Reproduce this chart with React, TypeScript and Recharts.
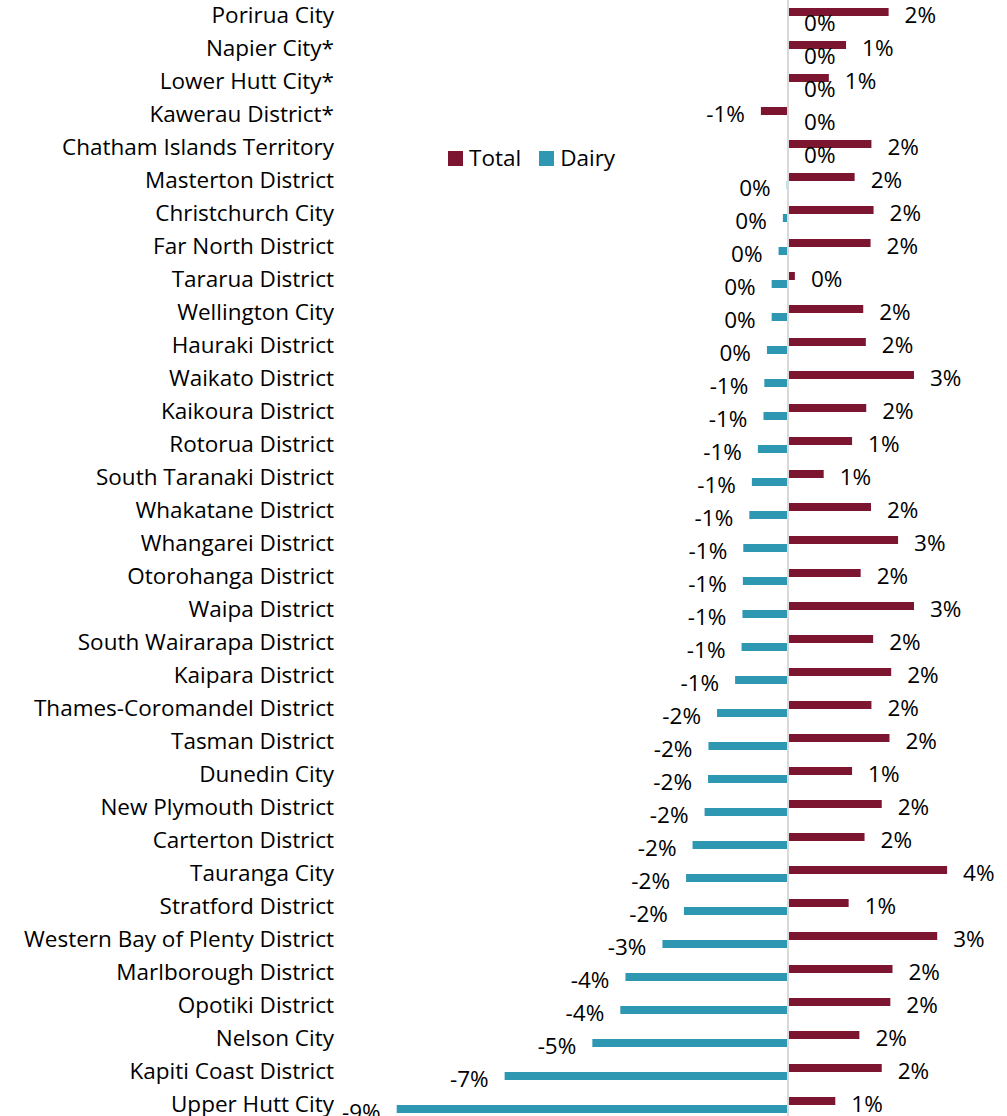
import { BarChart, Bar, XAxis, YAxis, ReferenceLine, LabelList, Legend } from 'recharts';

// Districts, top to bottom as they appear
const districts = [
  'Porirua City',
  'Napier City*',
  'Lower Hutt City*',
  'Kawerau District*',
  'Chatham Islands Territory',
  'Masterton District',
  'Christchurch City',
  'Far North District',
  'Tararua District',
  'Wellington City',
  'Hauraki District',
  'Waikato District',
  'Kaikoura District',
  'Rotorua District',
  'South Taranaki District',
  'Whakatane District',
  'Whangarei District',
  'Otorohanga District',
  'Waipa District',
  'South Wairarapa District',
  'Kaipara District',
  'Thames-Coromandel District',
  'Tasman District',
  'Dunedin City',
  'New Plymouth District',
  'Carterton District',
  'Tauranga City',
  'Stratford District',
  'Western Bay of Plenty District',
  'Marlborough District',
  'Opotiki District',
  'Nelson City',
  'Kapiti Coast District',
  'Upper Hutt City',
];

// % change
const totalChange = [
  2.34, 1.35, 0.95, -0.63, 1.94, 1.55, 1.99, 1.92, 0.16, 1.75, 1.81, 2.93, 1.82, 1.49, 0.83, 1.93, 2.56,
  1.69, 2.93, 1.98, 2.4, 1.94, 2.36, 1.49, 2.18, 1.78, 3.7, 1.41, 3.47, 2.43, 2.38, 1.66, 2.18, 1.1,
];

// top five show "0%" on the right of the axis, so they are a hair above zero
const dairyChange = [
  0.001, 0.001, 0.001, 0.001, 0.001, -0.03, -0.12, -0.22, -0.38, -0.38, -0.49, -0.55, -0.57, -0.7, -0.84,
  -0.9, -1.04, -1.05, -1.06, -1.08, -1.23, -1.65, -1.85, -1.86, -1.94, -2.22, -2.37, -2.42, -2.92, -3.78,
  -3.9, -4.55, -6.59, -9.1,
];

const seriesNames = ['Total', 'Dairy'];
const TOTAL_COLOR = '#7B1530';
const DAIRY_COLOR = '#2E98B3';
const FONT = '"Open Sans", "Noto Sans", sans-serif';
const FONT_SIZE = 22.5;

const data = districts.map((name, i) => ({
  name,
  total: totalChange[i],
  dairy: dairyChange[i],
}));

function pctLabel(props: any) {
  const { x, y, width, height, value } = props;
  const left = Math.min(x, x + width);
  const right = Math.max(x, x + width);
  const pos = value >= 0;
  return (
    <text
      x={pos ? right + 16 : left - 16}
      y={y + height / 2 + 2.5}
      textAnchor={pos ? 'start' : 'end'}
      dominantBaseline="central"
      fontSize={FONT_SIZE}
      fontFamily={FONT}
      fill="#000"
    >
      {`${Math.round(value)}%`}
    </text>
  );
}

function LegendBox() {
  const colors = [TOTAL_COLOR, DAIRY_COLOR];
  return (
    <div style={{ display: 'flex', alignItems: 'center', fontFamily: FONT, fontSize: FONT_SIZE, color: '#000', lineHeight: '24px' }}>
      {seriesNames.map((s, i) => (
        <span key={s} style={{ display: 'flex', alignItems: 'center', marginRight: 18 }}>
          <span style={{ display: 'inline-block', width: 15, height: 15, background: colors[i], marginRight: 6 }} />
          {s}
        </span>
      ))}
    </div>
  );
}

export default function App() {
  return (
    <div
      style={{
        position: 'absolute',
        left: 0,
        top: 0,
        width: 1007,
        height: 1116,
        overflow: 'hidden',
        background: '#fff',
      }}
    >
      <div style={{ position: 'absolute', left: 0, top: -1 }}>
        <BarChart
          width={1007}
          height={1122}
          data={data}
          layout="vertical"
          margin={{ top: 0, right: 4, bottom: 0, left: 0 }}
          barSize={8}
          barGap={0}
        >
          <XAxis type="number" domain={[-10, 5]} hide />
          <YAxis
            type="category"
            dataKey="name"
            width={358}
            axisLine={false}
            tickLine={false}
            tickMargin={18}
            interval={0}
            tick={{ fontSize: FONT_SIZE, fill: '#000', fontFamily: FONT }}
          />
          <Legend
            verticalAlign="middle"
            content={<LegendBox />}
            wrapperStyle={{ left: 448, top: 147, width: 'auto', height: 'auto' }}
          />
          <Bar dataKey="total" name="Total" fill={TOTAL_COLOR} isAnimationActive={false}>
            <LabelList dataKey="total" content={pctLabel} />
          </Bar>
          <Bar dataKey="dairy" name="Dairy" fill={DAIRY_COLOR} isAnimationActive={false}>
            <LabelList dataKey="dairy" content={pctLabel} />
          </Bar>
          <ReferenceLine x={0} stroke="#d9d9d9" strokeWidth={2} />
        </BarChart>
      </div>
    </div>
  );
}
